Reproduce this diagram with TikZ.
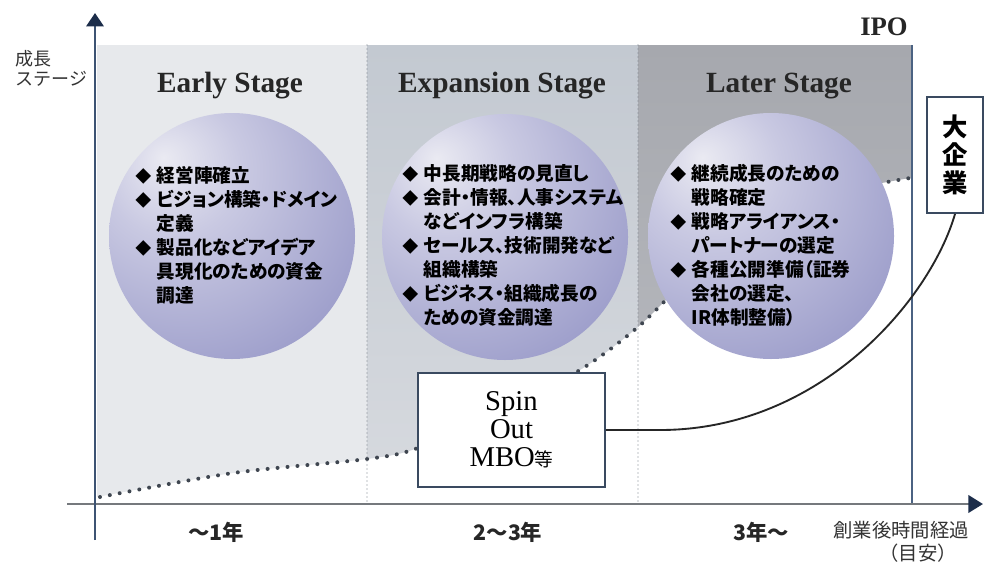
\documentclass[tikz,border=0pt]{standalone}
\usepackage{fontspec}
\setmainfont{Liberation Serif}
\newfontfamily\cjk{Noto Sans CJK JP}
\newfontfamily\cjkp[RawFeature=+palt]{Noto Sans CJK JP}
\usetikzlibrary{arrows.meta}
\definecolor{earlyc}{HTML}{E7E9EC}
\definecolor{expTop}{HTML}{C3C9D1}
\definecolor{expBot}{HTML}{D7DADF}
\definecolor{latTop}{HTML}{A6A8AE}
\definecolor{latBot}{HTML}{BABCC1}
\definecolor{bubA}{HTML}{EAEAF2}
\definecolor{bubB}{HTML}{C9C9E2}
\definecolor{bubC}{HTML}{9899C8}
\definecolor{bubD}{HTML}{7C7DB6}
\definecolor{navy}{HTML}{1C2D4A}
\definecolor{yaxc}{HTML}{3D5373}
\definecolor{xaxc}{HTML}{75797D}
\definecolor{ipoc}{HTML}{4B6282}
\definecolor{dotc}{HTML}{3F4650}
\definecolor{vdotc}{HTML}{7D838C}
\definecolor{boxc}{HTML}{3A4A60}
\definecolor{labc}{HTML}{333333}
\pgfdeclareradialshading{bubbleshade}{\pgfpoint{-14bp}{16bp}}{color(0bp)=(bubA); color(14bp)=(bubB); color(42bp)=(bubC); color(64bp)=(bubD); color(100bp)=(bubD)}
\newcommand\dia{\makebox[1.15em][l]{\fontsize{12}{12}\selectfont ◆}}
\newcommand\ind{\hspace*{1.15em}}
\begin{document}
\begin{tikzpicture}[x=0.75pt,y=-0.75pt,
  bubble/.style={circle, minimum size=184.5pt, inner sep=0pt, shading=bubbleshade},
  bullets/.style={anchor=north west, align=left, inner sep=0pt, font=\cjkp\bfseries\fontsize{14}{18}\selectfont, text=black},
  header/.style={anchor=base, font=\bfseries\fontsize{22}{22}\selectfont, text=black!85},
  framebox/.style={draw=boxc, line width=1.5pt, fill=white, inner sep=0pt},
  conn/.style={draw=black!85, line width=1.4pt},
  curvedots/.style={draw=dotc, line width=3pt, line cap=round, dash pattern=on 0pt off 7.5pt},
  vdots/.style={draw=vdotc, line width=0.9pt, line cap=round, dash pattern=on 0pt off 3pt},
  yearlab/.style={font=\cjk\bfseries\fontsize{16}{16}\selectfont, text=black!85},
  axlab/.style={font=\cjk\fontsize{13.5}{15}\selectfont, text=labc}
]
\useasboundingbox (0,0) rectangle (995,564);
\fill[white] (0,0) rectangle (995,564);

% stage bands
\begin{scope}
\clip (97,45) -- (912,45) -- (912,178) -- plot[smooth] coordinates {(910,178) (850,190) (780,215) (700,268) (638,327) (580,370) (500,412) (418,448) (367,459) (233,473) (97,497)} -- cycle;
\fill[earlyc] (97,45) rectangle (367,504);
\shade[top color=expTop, bottom color=expBot] (367,45) rectangle (638,504);
\shade[top color=latTop, bottom color=latBot] (638,45) rectangle (912,504);
\end{scope}

% growth curve (dotted)
\draw[curvedots] plot[smooth] coordinates {(100,497) (233,473) (367,459) (418,448) (500,412) (580,370) (638,327) (700,268) (780,215) (850,190) (910,178)};

% stage separators
\draw[vdots] (367,45) -- (367,502);
\draw[vdots] (638,45) -- (638,502);

% IPO line
\draw[ipoc, line width=1.5pt] (912,45) -- (912,504);

% axes
\draw[xaxc, line width=2.2pt, -{Triangle[width=13pt,length=11pt,color=navy]}] (67,504) -- (983,504);
\draw[yaxc, line width=1.5pt, -{Triangle[width=13pt,length=10pt,color=navy]}] (95,540) -- (95,13);

% headers
\node[header] (h1) at (230,92) {Early Stage};
\node[header] (h2) at (502,92) {Expansion Stage};
\node[header] (h3) at (779,92) {Later Stage};
\node[header, font=\bfseries\fontsize{20}{20}\selectfont] (ipo) at (884,35) {IPO};

% bubbles
\node[bubble] (b1) at (232,236) {};
\node[bubble] (b2) at (505,237) {};
\node[bubble] (b3) at (771,236) {};

\node[bullets] (t1) at (135,166) {\dia 経営陣確立\\\dia ビジョン構築・ドメイン\\\ind 定義\\\dia 製品化などアイデア\\\ind 具現化のための資金\\\ind 調達};
\node[bullets] (t2) at (402,164) {\dia 中長期戦略の見直し\\\dia 会計・情報、人事システム\\\ind などインフラ構築\\\dia セールス、技術開発など\\\ind 組織構築\\\dia ビジネス・組織成長の\\\ind ための資金調達};
\node[bullets] (t3) at (670,164) {\dia 継続成長のための\\\ind 戦略確定\\\dia 戦略アライアンス・\\\ind パートナーの選定\\\dia 各種公開準備（証券\\\ind 会社の選定、\\\ind IR体制整備）};

% boxes
\node[framebox, minimum width=140pt, minimum height=85.5pt, align=center, font=\fontsize{21.5}{21}\selectfont] (spin) at (511.5,430) {Spin\\Out\\MBO{\cjk\fontsize{14}{14}\selectfont 等}};
\node[framebox, minimum width=42pt, minimum height=87pt, align=center, font=\cjk\bfseries\fontsize{19}{21}\selectfont] (big) at (955,155) {大\\企\\業};

% connector
\draw[conn] (spin.east) -- (660,430) .. controls (820,430) and (930,300) .. (big.south);

% axis labels
\node[axlab, anchor=west, align=left] (ylab) at (11,68) {成長\\ステージ};
\node[yearlab] (y1) at (216,532) {〜1年};
\node[yearlab] (y2) at (508,532) {2〜3年};
\node[yearlab] (y3) at (761,532) {3年〜};
\node[axlab, font=\cjk\fontsize{14.5}{15}\selectfont] (xl1) at (901,530) {創業後時間経過};
\node[axlab, font=\cjk\fontsize{14.5}{15}\selectfont] (xl2) at (918,553) {（目安）};
\end{tikzpicture}
\end{document}
